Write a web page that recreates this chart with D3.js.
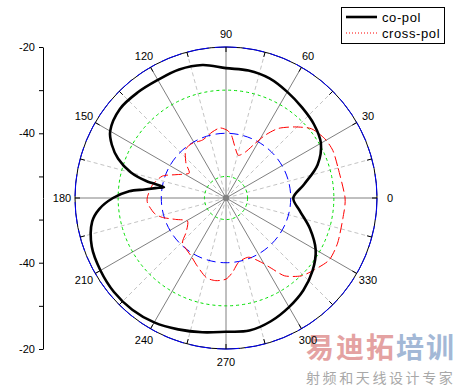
<!DOCTYPE html>
<html>
<head>
<meta charset="utf-8">
<script src="https://cdn.jsdelivr.net/npm/d3@7"></script>
<style>
    body { margin: 0; background: #fff; }
    svg { display: block; font-family: 'Liberation Sans', Arial, sans-serif; }
</style>
</head>
<body>
<svg width="460" height="386"></svg>
<script>
// co-pol, dB by angle (deg, counter-clockwise from east)
const coAngles = [0, 10, 20, 30, 40, 50, 60, 70, 80, 90, 100, 110, 120, 130, 140, 150, 155, 160, 165, 168, 170,
    172, 174, 176, 180, 185, 190, 200, 210, 220, 230, 240, 250, 260, 270, 280, 290, 300, 310, 320, 330, 340, 350];
const coPol = [-39.4, -36.6, -32.4, -29.6, -28.4, -27.6, -26.6, -25.5, -25.0, -24.9, -23.7, -23.3, -23.4, -23.1,
    -22.9, -24.0, -25.8, -28.4, -32.2, -36.1, -40.4, -38.5, -36.0, -32.5, -28.8, -25.5, -23.5, -21.9, -21.4, -21.1,
    -21.2, -21.7, -22.6, -23.4, -24.0, -23.8, -24.6, -25.8, -27.1, -28.8, -31.0, -34.3, -37.6];

// cross-pol
const crossAngles = [0, 16, 24, 31, 39, 46, 53, 58, 62, 67, 74, 80, 85, 89, 95, 102, 112, 122, 130, 139, 146, 155,
    161, 170, 179, 184, 192, 197, 203, 211, 221, 226, 239, 247, 256, 263, 270, 275, 281, 291, 299, 303, 307, 314,
    321, 329, 338, 350];
const crossPol = [-27.4, -28.1, -27.9, -28.3, -29.5, -32.1, -34.8, -37.8, -40.7, -43.4, -44.7, -43.0, -40.4, -39.3,
    -38.7, -39.4, -40.5, -40.1, -40.4, -42.7, -44.7, -42.2, -39.4, -37.7, -36.8, -36.8, -38.0, -39.6, -42.3, -44.6,
    -42.7, -40.5, -39.3, -37.9, -36.0, -35.7, -36.2, -37.7, -39.8, -40.3, -37.9, -35.5, -32.4, -29.9, -28.6, -27.1,
    -27.1, -27.5];

const ringLevels = [-50, -40, -30, -20];
const axisLabelled = [-40, -20];
const angleLabels = [0, 30, 60, 90, 120, 150, 180, 210, 240, 270, 300, 330];
const seriesNames = ['co-pol', 'cross-pol'];

const svg = d3.select('svg');
const cx = 226;
const cy = 198;
const R = 151;
const rScale = d3.scaleLinear().domain([-55, -20]).range([0, R]);
const toRad = a => a * Math.PI / 180;

// watermark
const wm = svg.append('g').attr('font-family', "'Noto Sans CJK SC', sans-serif");
wm.append('text')
    .attr('x', 306).attr('y', 358)
    .attr('font-size', 28).attr('font-weight', 'bold')
    .attr('letter-spacing', 2)
    .html('<tspan fill="#e4a2a2">易迪拓</tspan><tspan fill="#a3b8d6">培训</tspan>');
wm.append('text')
    .attr('x', 306).attr('y', 383)
    .attr('font-size', 14).attr('fill', '#a8a8a8')
    .attr('letter-spacing', 2.6)
    .text('射频和天线设计专家');

const plot = svg.append('g').attr('transform', 'translate(' + cx + ',' + cy + ')');

// spokes
const spokes = d3.range(0, 360, 15);
plot.append('g')
    .selectAll('line')
    .data(spokes)
    .enter().append('line')
    .attr('x1', 0).attr('y1', 0)
    .attr('x2', d => R * Math.cos(toRad(d)))
    .attr('y2', d => -R * Math.sin(toRad(d)))
    .attr('stroke', d => d % 30 === 0 ? '#808080' : '#c4c4c4')
    .attr('stroke-dasharray', d => d % 30 === 0 ? null : '4,3');

// rings
const ringStyle = {
    '-50': {color: '#00e000', dash: '3,3'},
    '-40': {color: '#0000ff', dash: '9,5'},
    '-30': {color: '#00e000', dash: '3,3'}
};
plot.append('circle').attr('r', R).attr('fill', 'none').attr('stroke', '#000');
plot.append('circle').attr('r', R).attr('fill', 'none').attr('stroke', '#0000ff')
    .attr('stroke-dasharray', '22,6');
plot.append('g')
    .selectAll('circle')
    .data(ringLevels.filter(v => v !== -20))
    .enter().append('circle')
    .attr('r', d => rScale(d))
    .attr('fill', 'none')
    .attr('stroke', d => ringStyle[d].color)
    .attr('stroke-dasharray', d => ringStyle[d].dash);

// ticks on outer circle
plot.append('g')
    .selectAll('line')
    .data(spokes)
    .enter().append('line')
    .attr('x1', d => (R - 5) * Math.cos(toRad(d)))
    .attr('y1', d => -(R - 5) * Math.sin(toRad(d)))
    .attr('x2', d => R * Math.cos(toRad(d)))
    .attr('y2', d => -R * Math.sin(toRad(d)))
    .attr('stroke', '#000');

plot.append('circle').attr('r', 3).attr('fill', '#808080');

// angle labels
plot.append('g')
    .selectAll('text')
    .data(angleLabels)
    .enter().append('text')
    .attr('x', d => 164 * Math.cos(toRad(d)))
    .attr('y', d => -164 * Math.sin(toRad(d)))
    .attr('dy', '0.35em')
    .attr('text-anchor', 'middle')
    .attr('font-size', 11)
    .text(d => d);

// curves
function toPoints(angles, values) {
    return angles.map((a, i) => ({a: a, v: values[i]}));
}
const radial = d3.lineRadial()
    .angle(d => toRad(90 - d.a))
    .radius(d => rScale(d.v));

plot.append('path')
    .attr('d', radial.curve(d3.curveCardinalClosed.tension(0.3))(toPoints(crossAngles, crossPol)))
    .attr('fill', 'none')
    .attr('stroke', '#ff0000')
    .attr('stroke-dasharray', '10,4');

plot.append('path')
    .attr('d', radial.curve(d3.curveCatmullRomClosed.alpha(0.5))(toPoints(coAngles, coPol)))
    .attr('fill', 'none')
    .attr('stroke', '#000')
    .attr('stroke-width', 2.6);

// left radial axis
const yTop = d3.scaleLinear().domain([-55, -20]).range([cy, cy - R]);
const yBottom = d3.scaleLinear().domain([-55, -20]).range([cy, cy + R]);
[yTop, yBottom].forEach(function (scale) {
    const g = svg.append('g')
        .attr('transform', 'translate(43,0)')
        .call(d3.axisLeft(scale)
            .tickValues(ringLevels)
            .tickSize(4)
            .tickSizeOuter(0)
            .tickPadding(4)
            .tickFormat(d => axisLabelled.includes(d) ? d : ''));
    g.selectAll('text').attr('font-size', 11).attr('font-family', null).attr('fill', '#000');
    g.selectAll('line, path').attr('stroke', '#000');
});

// legend
const legend = svg.append('g');
legend.append('rect')
    .attr('x', 341.5).attr('y', 7.5).attr('width', 103).attr('height', 36)
    .attr('fill', '#fff').attr('stroke', '#000');
const legendStyle = [{color: '#000', width: 2.6, dash: null}, {color: '#ff0000', width: 1, dash: '1,2'}];
seriesNames.forEach(function (name, i) {
    const y = 17 + i * 16;
    legend.append('line')
        .attr('x1', 346).attr('x2', 377).attr('y1', y).attr('y2', y)
        .attr('stroke', legendStyle[i].color)
        .attr('stroke-width', legendStyle[i].width)
        .attr('stroke-dasharray', legendStyle[i].dash);
    legend.append('text')
        .attr('x', 382).attr('y', y).attr('dy', '0.35em')
        .attr('font-size', 13).attr('letter-spacing', 0.6)
        .text(name);
});
</script>
</body>
</html>
